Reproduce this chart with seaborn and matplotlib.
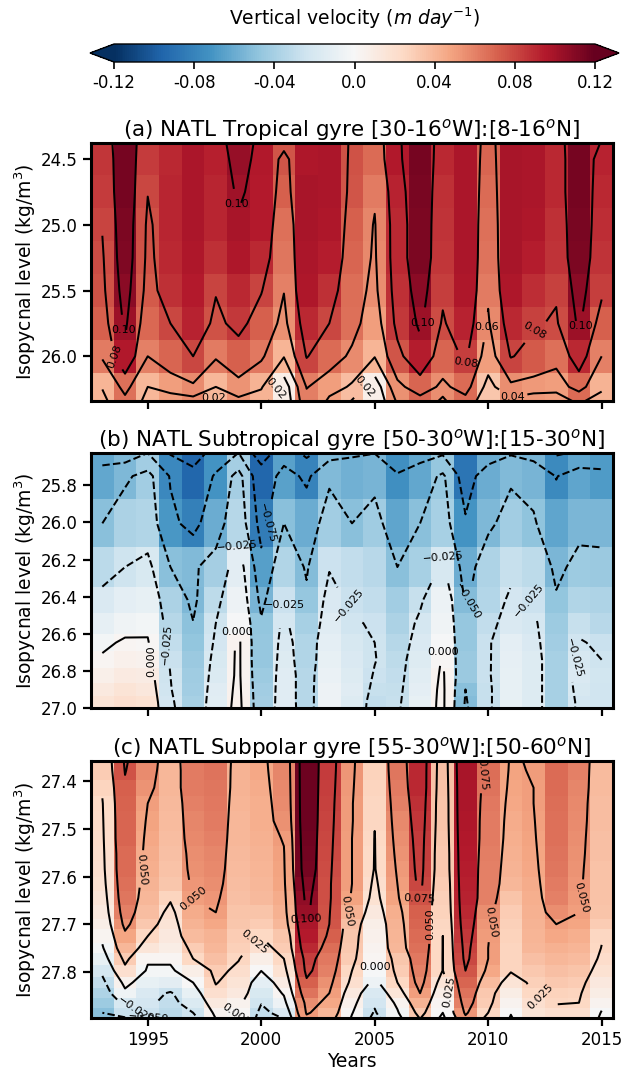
import numpy as np
import pandas as pd
import matplotlib
matplotlib.use("Agg")
import matplotlib.pyplot as plt
import seaborn as sns

# Constants
FIG_W, FIG_H = 624, 1072
LEFT, RIGHT = 91, 613
VMAX = 0.12

years = list(range(1993, 2016))
tick_years = [1995, 2000, 2005, 2010, 2015]

# Row edges in sigma; the first and last rows lie outside the plotted range,
# they only shape the contours that run off the top and the bottom
tropical_edges = [24.125, 24.378, 24.625, 24.875, 25.125, 25.375, 25.625, 25.875, 26.125, 26.34, 26.66]
subtropical_edges = [25.376, 25.626, 25.875, 26.135, 26.346, 26.486, 26.6, 26.695, 26.785, 26.865, 26.935, 27.0, 27.065]
subpolar_edges = [27.30, 27.357, 27.396, 27.43, 27.462, 27.504, 27.536, 27.568, 27.6, 27.63, 27.66, 27.69,
                  27.71, 27.74, 27.76, 27.785, 27.81, 27.835, 27.855, 27.875, 27.897, 27.92]

tropical_values = [
    [.088, .118, .085, .092, .098, .095, .110, .097, .095, .098, .099, .077, .070, .097, .116, .091, .099, .072, .099, .099, .091, .117, .105],
    [.086, .115, .084, .090, .098, .093, .105, .096, .075, .097, .098, .076, .068, .096, .115, .090, .098, .070, .099, .098, .090, .115, .092],
    [.084, .115, .0805, .091, .098, .091, .102, .095, .072, .099, .098, .075, .062, .092, .114, .088, .098, .068, .099, .098, .090, .115, .090],
    [.081, .113, .077, .091, .098, .091, .0985, .095, .066, .099, .097, .072, .059, .090, .113, .087, .098, .066, .099, .097, .088, .114, .089],
    [.078, .112, .076, .090, .097, .088, .097, .090, .064, .098, .094, .070, .058, .090, .113, .086, .098, .065, .099, .094, .087, .113, .087],
    [.076, .108, .074, .088, .095, .081, .090, .081, .0605, .097, .088, .067, .056, .088, .108, .083, .097, .0625, .097, .089, .082, .108, .083],
    [.072, .103, .069, .080, .092, .076, .085, .072, .055, .090, .080, .066, .050, .085, .103, .078, .092, .058, .090, .082, .078, .103, .072],
    [.062, .096, .060, .070, .080, .062, .072, .063, .041, .081, .068, .057, .041, .075, .094, .070, .083, .050, .081, .074, .066, .090, .060],
    [.041, .066, .040, .050, .057, .040, .054, .042, .008, .061, .050, .037, .007, .055, .070, .056, .068, .033, .056, .052, .050, .068, .042],
    [.030, .045, .030, .005, .007, -.016, .015, .020, .000, .046, .020, .000, -.005, .030, .037, .010, .040, .015, .012, .000, .000, .020, .030],
]

subtropical_values = [
    [-.118, -.126, -.108, -.127, -.120, -.110, -.108, -.115, -.110, -.131, -.118, -.100, -.095, -.090, -.108, -.110, -.105, -.120, -.102, -.115, -.130, -.130, -.115],
    [-.062, -.054, -.042, -.077, -.095, -.072, -.041, -.095, -.065, -.080, -.053, -.058, -.056, -.074, -.062, -.046, -.088, -.060, -.053, -.056, -.076, -.063, -.068],
    [-.050, -.038, -.036, -.070, -.082, -.060, -.034, -.084, -.050, -.060, -.042, -.050, -.043, -.063, -.050, -.040, -.072, -.054, -.042, -.048, -.063, -.055, -.055],
    [-.032, -.025, -.019, -.050, -.053, -.041, -.013, -.066, -.036, -.052, -.026, -.030, -.033, -.050, -.040, -.020, -.060, -.037, -.028, -.031, -.055, -.044, -.045],
    [-.018, -.012, -.010, -.038, -.054, -.031, -.006, -.056, -.026, -.046, -.018, -.027, -.030, -.042, -.028, -.007, -.052, -.035, -.022, -.026, -.047, -.036, -.037],
    [-.011, -.005, -.0035, -.034, -.0495, -.025, -.001, -.047, -.021, -.040, -.015, -.024, -.026, -.038, -.021, -.005, -.046, -.030, -.018, -.021, -.044, -.028, -.033],
    [-.003, .002, .0015, -.030, -.047, -.022, .004, -.046, -.018, -.036, -.012, -.020, -.025, -.034, -.018, -.001, -.046, -.027, -.012, -.018, -.042, -.024, -.027],
    [.002, .006, .005, -.027, -.045, -.019, .004, -.046, -.016, -.036, -.010, -.018, -.0245, -.031, -.016, .0015, -.045, -.027, -.011, -.016, -.040, -.020, -.025],
    [.007, .011, .010, -.025, -.043, -.017, .004, -.044, -.015, -.034, -.008, -.016, -.026, -.030, -.014, .003, -.045, -.027, -.010, -.016, -.040, -.018, -.023],
    [.012, .016, .014, -.024, -.042, -.015, .005, -.042, -.015, -.034, -.006, -.015, -.028, -.029, -.012, .004, -.050, -.028, -.010, -.016, -.040, -.020, -.024],
    [.016, .020, .018, -.022, -.040, -.014, .006, -.041, -.015, -.034, -.006, -.016, -.030, -.028, -.010, .004, -.052, -.028, -.010, -.016, -.040, -.022, -.024],
    [.018, .022, .020, -.020, -.040, -.013, .007, -.040, -.014, -.034, -.005, -.016, -.031, -.027, -.009, .004, -.054, -.028, -.009, -.016, -.040, -.022, -.024],
]

# Subpolar values are listed year by year, top to bottom
subpolar_by_year = [
    [.032, .030, .027, .024, .023, .022, .021, .020, .018, .015, .012, .008, .003, -.002, -.010, -.021, -.030, -.037, -.044, -.050, -.055],
    [.080, .076, .072, .071, .070, .070, .068, .068, .066, .064, .060, .055, .047, .040, .030, .020, .005, -.005, -.020, -.027, -.080],
    [.060, .057, .054, .050, .048, .046, .045, .044, .042, .040, .037, .032, .025, .015, .002, -.002, -.010, -.018, -.022, -.026, -.080],
    [.041, .040, .040, .039, .038, .037, .036, .035, .033, .027, .020, .016, .013, .009, .002, -.002, -.013, -.027, -.030, -.032, -.040],
    [.063, .062, .062, .060, .059, .058, .056, .055, .053, .050, .045, .042, .038, .030, .025, .008, .000, -.010, -.017, -.025, -.040],
    [.066, .065, .064, .063, .062, .060, .059, .058, .056, .053, .050, .046, .042, .040, .036, .030, .026, .020, .012, .004, -.003],
    [.043, .042, .042, .041, .040, .040, .039, .038, .037, .036, .034, .033, .030, .029, .026, .021, .016, .013, .005, .001, -.005],
    [.047, .046, .045, .044, .044, .043, .042, .041, .040, .039, .034, .030, .0245, .020, .008, .0003, -.012, -.019, -.024, -.030, -.035],
    [.060, .059, .058, .057, .055, .051, .049, .048, .047, .045, .043, .040, .033, .030, .025, .018, .010, .002, -.006, -.018, -.030],
    [.118, .118, .118, .118, .118, .117, .116, .115, .110, .106, .104, .098, .095, .090, .083, .080, .072, .065, .056, .052, .040],
    [.085, .084, .083, .082, .081, .080, .079, .078, .077, .077, .076, .075, .072, .067, .063, .060, .055, .050, .046, .040, .030],
    [.054, .053, .052, .051, .051, .050, .050, .050, .050, .048, .042, .036, .033, .032, .030, .025, .020, .012, .006, .001, -.005],
    [.029, .028, .027, .026, .0255, .0245, .0243, .024, .021, .018, .013, .008, .006, .004, .002, -.001, -.006, -.018, -.022, -.027, -.035],
    [.065, .064, .062, .060, .058, .056, .054, .052, .050, .048, .044, .042, .041, .040, .033, .030, .025, .015, .004, -.002, -.010],
    [.091, .090, .090, .088, .086, .084, .083, .082, .080, .076, .072, .070, .068, .066, .063, .060, .057, .050, .042, .032, .020],
    [.037, .036, .035, .034, .034, .033, .032, .032, .030, .029, .028, .026, .025, .025, .0245, .0245, .015, .008, .002, .000, -.010],
    [.100, .099, .098, .098, .097, .096, .095, .094, .093, .092, .090, .088, .085, .082, .080, .075, .070, .065, .060, .053, .040],
    [.068, .067, .065, .063, .062, .062, .061, .060, .060, .060, .056, .053, .051, .050, .050, .046, .038, .032, .030, .025, .015],
    [.049, .048, .047, .046, .045, .044, .043, .042, .040, .034, .030, .029, .028, .027, .027, .0265, .016, .009, .004, .0007, -.003],
    [.052, .051, .050, .050, .049, .048, .047, .046, .045, .044, .043, .042, .041, .040, .036, .032, .029, .025, .020, .016, .012],
    [.069, .068, .068, .067, .066, .066, .065, .064, .062, .060, .056, .050, .046, .043, .040, .036, .032, .028, .026, .020, .018],
    [.061, .060, .059, .058, .057, .056, .055, .054, .053, .052, .050, .047, .044, .041, .038, .034, .030, .027, .025, .020, .016],
    [.039, .038, .038, .037, .037, .036, .036, .035, .035, .035, .034, .030, .026, .0245, .022, .018, .013, .009, .004, -.001, -.005],
]

tropical_levels = [0.0, 0.02, 0.04, 0.06, 0.08, 0.10]
gyre_levels = [-0.10, -0.075, -0.05, -0.025, 0.0, 0.025, 0.05, 0.075, 0.10]

tropical_ticks = [24.5, 25.0, 25.5, 26.0]
subtropical_ticks = [25.8, 26.0, 26.2, 26.4, 26.6, 26.8, 27.0]
subpolar_ticks = [27.4, 27.5, 27.6, 27.7, 27.8]

# Contour labels as (year, sigma, text angle)
tropical_labels = [(1998.96, 24.84, 0), (1993.94, 25.80, 0), (1993.5, 26.0, 70), (1997.96, 26.33, 0), (2000.6, 26.245, -50),
                   (2004.65, 26.245, -50), (2006.98, 25.74, 0), (2009.0, 26.06, -8), (2009.98, 25.78, 0), (2012.05, 25.81, -30),
                   (2014.0, 25.77, 0), (2011.08, 26.33, 0)]
subtropical_labels = [(2000.2, 26.0, -75), (1998.96, 26.13, 5), (2001.04, 26.43, 0), (1995.8, 26.66, 85), (1995.1, 26.75, 90),
                      (1998.96, 26.59, 0), (2004.56, 26.42, 50), (2008.0, 26.19, 5), (2009.2, 26.43, -60), (2008.0, 26.70, 0),
                      (2012.05, 26.38, 50), (2014.03, 26.74, -75)]
subpolar_labels = [(1994.78, 27.584, -85), (1997.0, 27.645, 40), (1999.4, 27.724, -40), (2001.96, 27.689, 3), (2003.68, 27.672, -80),
                   (1994.47, 27.866, -35), (1995.09, 27.89, -5), (1998.87, 27.886, -35), (2006.98, 27.647, -3), (2007.55, 27.70, 90),
                   (2005.0, 27.783, 0), (2008.2, 27.844, 80), (2009.76, 27.385, -85), (2010.2, 27.697, -80), (2012.4, 27.844, 45),
                   (2014.16, 27.645, -75)]

sns.set_theme(style="ticks", rc={
    "axes.linewidth": 2.2,
    "xtick.major.width": 1.6,
    "ytick.major.width": 1.6,
    "xtick.major.size": 6,
    "ytick.major.size": 6,
    "xtick.color": "black",
    "ytick.color": "black",
    "text.color": "black",
    "axes.labelcolor": "black",
    "axes.edgecolor": "black",
})
plt.rcParams["font.family"] = ["DejaVu Sans"]

cmap = sns.color_palette("RdBu_r", as_cmap=True)


def contour_text(value, digits):
    return f"{value:.{digits}f}".replace("-", "\u2212")


def draw_panel(fig, top, bottom, values, edges, levels, ticks, labels, digits, title, cax=None):
    ax = fig.add_axes([LEFT / FIG_W, 1 - bottom / FIG_H, (RIGHT - LEFT) / FIG_W, (bottom - top) / FIG_H])
    frame = pd.DataFrame(values, columns=years)
    n_rows = len(frame)

    cbar_kws = None
    if cax is not None:
        cbar_kws = {"orientation": "horizontal", "extend": "both", "extendfrac": 0.05,
                    "ticks": [-0.12, -0.08, -0.04, 0.0, 0.04, 0.08, 0.12]}
    sns.heatmap(frame, ax=ax, cmap=cmap, vmin=-VMAX, vmax=VMAX, cbar=cax is not None, cbar_ax=cax,
                cbar_kws=cbar_kws, xticklabels=False, yticklabels=False)

    # heatmap rows are unit height, stretch them to the sigma spacing of the data
    row_index = np.arange(n_rows + 1)
    ax.set_yscale("function", functions=(lambda i: np.interp(i, row_index, edges),
                                         lambda s: np.interp(s, edges, row_index)))
    ax.set_ylim(n_rows - 1, 1)

    contours = ax.contour(np.arange(23) + 0.5, np.arange(n_rows) + 0.5, frame.values,
                          levels=levels, colors="black", linewidths=1.45)
    spots = [(year - 1992.5, np.interp(sigma, edges, row_index)) for year, sigma, _ in labels]
    texts = contours.clabel(fontsize=8, inline=True, inline_spacing=3,
                            fmt=lambda v: contour_text(v, digits), manual=spots)
    for text, (_, _, angle) in zip(texts, labels):
        text.set_rotation(angle)

    ax.set_yticks(np.interp(ticks, edges, row_index), [f"{t:.1f}" for t in ticks], fontsize=12)
    ax.set_xticks([y - 1992.5 for y in tick_years], [""] * len(tick_years))
    ax.tick_params(axis="y", rotation=0)
    ax.minorticks_off()
    ax.set_ylabel("Isopycnal level (kg/m$^3$)", fontsize=13.5, labelpad=2)
    ax.set_title(title, fontsize=15.5, pad=5)
    for spine in ax.spines.values():
        spine.set_visible(True)
        spine.set_linewidth(2.2)
    return ax


fig = plt.figure(figsize=(FIG_W / 100, FIG_H / 100), dpi=100)
cbar_ax = fig.add_axes([90 / FIG_W, 1 - 62 / FIG_H, 529 / FIG_W, 18 / FIG_H])

ax_a = draw_panel(fig, 143, 401, tropical_values, tropical_edges, tropical_levels, tropical_ticks, tropical_labels, 2,
                  "(a) NATL Tropical gyre [30-16$^o$W]:[8-16$^o$N]", cax=cbar_ax)
draw_panel(fig, 453, 708, subtropical_values, subtropical_edges, gyre_levels, subtropical_ticks, subtropical_labels, 3,
           "(b) NATL Subtropical gyre [50-30$^o$W]:[15-30$^o$N]")
ax_c = draw_panel(fig, 761, 1018, np.array(subpolar_by_year).T, subpolar_edges, gyre_levels, subpolar_ticks,
                  subpolar_labels, 3, "(c) NATL Subpolar gyre [55-30$^o$W]:[50-60$^o$N]")
ax_c.set_xticklabels([str(y) for y in tick_years], fontsize=12)
ax_c.tick_params(axis="x", rotation=0)
ax_c.set_xlabel("Years", fontsize=13.5, labelpad=2)

# Colour bar belongs to the first heatmap
ax_a.collections[0].colorbar.outline.set_linewidth(1.0)
cbar_ax.set_xticklabels(["-0.12", "-0.08", "-0.04", "0.0", "0.04", "0.08", "0.12"], fontsize=12)
cbar_ax.tick_params(axis="x", length=5, width=1.2)
cbar_ax.xaxis.set_label_position("top")
cbar_ax.set_xlabel("Vertical velocity ($m\\ day^{-1}$)", fontsize=13.5, labelpad=14)

fig.savefig("out.png", dpi=100)
